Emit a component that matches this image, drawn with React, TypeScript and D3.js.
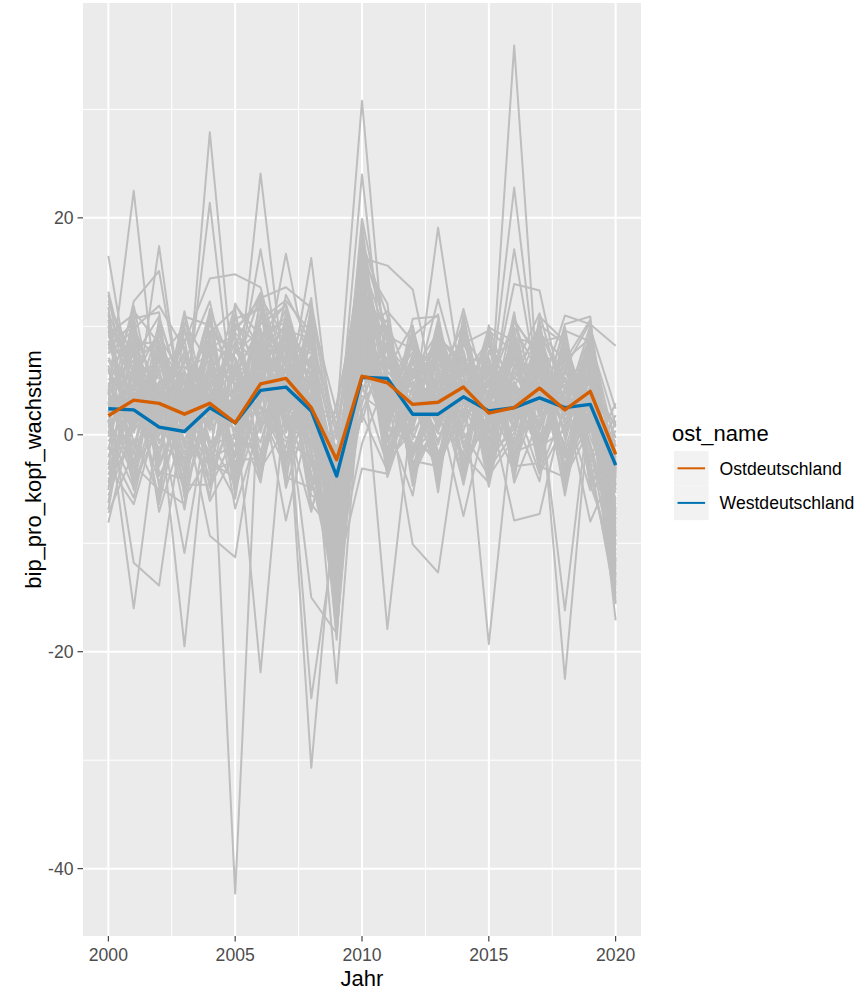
import React from "react";
import * as d3 from "d3";

const years = [2000, 2001, 2002, 2003, 2004, 2005, 2006, 2007, 2008, 2009, 2010, 2011, 2012, 2013, 2014, 2015, 2016, 2017, 2018, 2019, 2020];

const ostValues = [1.75, 3.2, 2.9, 1.9, 2.9, 1.1, 4.7, 5.2, 2.5, -2.3, 5.4, 4.8, 2.8, 3.0, 4.4, 2.0, 2.5, 4.3, 2.3, 4.0, -1.8];
const westValues = [2.4, 2.3, 0.7, 0.3, 2.5, 1.1, 4.1, 4.4, 2.2, -3.8, 5.3, 5.2, 1.9, 1.9, 3.5, 2.2, 2.5, 3.4, 2.5, 2.8, -2.8];

const groupNames = ["Ostdeutschland", "Westdeutschland"];
const yTicks = [-40, -20, 0, 20];
const yMinor = [-30, -10, 10, 30];
const xTicks = [2000, 2005, 2010, 2015, 2020];
const xMinor = [2002.5, 2007.5, 2012.5, 2017.5];

const bandSeries = [
  [5.2, 3.1, 6.8, -1.2, 4.5, 0.3, 7.9, 2.1, 5.6, -8.4, 12.1, 2.3, 4.8, -0.6, 6.2, 1.1, 4.9, 0.8, 5.3, 1.2, -6.8],
  [-2.1, 6.4, -0.8, 3.9, 0.7, 5.8, 1.4, 8.2, -1.9, -2.3, 4.1, 8.6, -1.4, 5.1, 1.6, 4.7, -0.9, 6.8, 0.1, 6.1, -1.9],
  [8.7, 0.4, 3.2, 5.6, -2.4, 3.9, 9.8, 0.6, 3.4, -11.2, 14.6, 1.2, 6.1, 1.8, 2.3, 6.3, 1.4, 2.9, 6.4, -0.8, -9.3],
  [0.9, -3.6, 7.4, 0.2, 7.8, -2.7, 3.6, 6.7, 7.9, -4.6, 8.4, 6.9, 0.3, 3.6, 7.8, -1.8, 5.8, 4.2, -2.1, 4.4, -3.2],
  [11.3, 4.8, -2.9, 2.8, 3.3, 7.1, -1.6, 4.9, 0.4, -6.7, 10.3, -0.7, 3.5, 7.3, -1.2, 3.2, 7.1, -0.6, 3.8, 7.2, -11.6],
  [3.6, 8.9, 1.7, -4.3, 5.9, 1.8, 5.9, 10.4, -3.8, -14.9, 16.2, 4.5, -2.7, 0.9, 4.9, 0.4, 2.6, 8.4, 1.9, 2.3, -4.7],
  [-4.8, 1.9, 4.6, 7.2, -0.5, -4.6, 11.2, 3.8, 2.7, -1.4, 6.9, 3.1, 8.2, -3.4, 3.8, 5.5, -2.8, 3.5, 4.6, -2.6, 1.8],
  [6.4, -1.8, 9.3, 1.9, 2.6, 8.6, 2.7, -1.2, 9.2, -9.1, 12.9, 9.8, 1.9, 4.4, 9.1, 2.1, 3.7, 6.1, -3.3, 5.6, -8.1],
  [1.8, 5.3, 0.4, 4.3, 9.6, 0.9, -2.4, 6.2, -5.1, -3.9, 3.2, 5.7, 5.6, 2.7, 0.4, 7.4, 8.3, 1.7, 7.6, 0.3, -0.6],
  [9.9, 7.1, 2.6, -2.6, 1.2, 4.4, 6.4, 11.6, 4.3, -12.8, 9.6, -2.1, 2.9, 8.1, 5.3, -3.1, 0.2, 9.1, 2.7, 8.4, -13.1],
  [-0.6, 2.7, 5.9, 6.3, 4.1, -1.1, 8.6, 0.2, 6.8, -6.1, 15.3, 7.6, -3.9, 1.2, 8.4, 3.7, 6.6, -1.4, 5.9, 3.6, -5.4],
  [4.3, -4.7, 1.1, 3.1, 8.3, 6.9, 0.8, 5.4, -0.8, -7.5, 7.4, 1.9, 7.3, 5.9, -2.4, 1.6, 3.1, 5.3, -1.2, 1.7, -2.4],
  [7.5, 9.7, -3.8, 0.8, -3.8, 2.4, 10.4, 8.8, 1.6, -16.3, 11.7, 10.4, 4.1, -4.1, 6.9, 6.9, -3.6, 7.6, 3.3, 9.1, -7.4],
  [2.4, 1.2, 8.1, 4.8, 6.8, -5.3, 4.7, 2.9, 10.1, -2.8, 5.3, 4.1, 0.8, 6.6, 2.9, -0.7, 4.5, 2.3, 8.1, -1.4, -10.2],
  [-3.2, 4.2, 2.2, -5.2, 2.1, 9.4, 6.8, -2.7, 5.1, -10.4, 13.8, -1.5, 9.1, 3.1, 5.8, 4.6, 7.8, 0.1, 1.3, 5.1, 0.7],
  [10.6, -0.9, 4.9, 2.3, -1.6, 3.3, -0.7, 7.5, 2.3, -5.3, 17.1, 5.4, 2.2, 9.2, -0.3, 2.8, 1.9, 4.8, 4.9, 2.9, -3.9],
  [0.1, 7.8, -1.9, 6.9, 5.2, 1.1, 12.3, 4.6, -2.4, -13.6, 8.8, 3.6, -0.8, -1.8, 4.2, 8.2, 5.1, 10.1, -0.4, 7.8, -12.4],
  [5.9, 2.3, 10.1, -0.9, 10.4, 5.1, 3.3, 9.6, 6.4, -8.8, 2.1, 8.2, 5.3, 4.8, 10.3, -2.3, 2.8, 3.3, 7.1, -0.2, -6.1],
  [-5.6, 0.8, 3.7, 3.5, 3.6, -3.4, 7.4, 0.9, 8.6, 0.8, 10.8, 0.6, 6.7, 7.7, 1.3, 5.1, -1.8, 7.1, 2.2, 4.8, -2.8],
  [12.4, 5.9, 0.9, 1.4, -2.9, 7.8, 4.1, 5.8, -1.3, -11.9, 14.2, 6.3, 3.6, 0.3, 7.3, 0.9, 9.1, -2.4, 4.4, 6.6, -8.9],
  [3.1, -2.4, 6.3, 8.1, 1.7, 0.6, 9.1, 12.1, 3.8, -4.1, 6.2, 2.8, -1.8, 5.4, 3.2, 4.1, 0.7, 5.9, -3.6, 2.6, -15.1],
  [7.1, 3.8, -0.4, -3.1, 6.5, 4.8, 1.9, 3.3, 7.3, -15.6, 12.4, 9.1, 7.9, 2.2, -1.7, 7.8, 4.2, 1.1, 6.9, 8.9, -1.1],
  [-1.4, 10.2, 2.9, 5.1, 8.9, -0.4, 5.2, -0.3, 0.9, -7.9, 9.1, -0.1, 1.1, 6.9, 5.6, -1.2, 6.4, 8.9, 1.1, 0.9, -9.8],
  [4.8, 0.2, 7.8, 2.1, 2.9, 10.2, 8.2, 7.1, -2.9, -3.1, 16.8, 4.9, 4.6, 3.9, 8.7, 2.9, -2.1, 4.1, 5.6, 5.3, -4.3],
  [8.1, 6.6, 4.1, -4.6, -4.6, 2.9, 3.9, 1.6, 4.8, -10.9, 7.9, 7.1, 0.1, -2.7, 2.1, 5.9, 3.4, -0.9, 3.9, 3.3, -7.8],
  [1.3, -2.8, -5.1, 6.1, 7.3, -2.1, 6.1, 9.4, 1.2, -6.9, 11.4, 1.7, 8.6, 4.2, 0.8, 1.3, 5.6, 6.9, -1.6, 7.1, -2.1],
  [-2.8, 8.3, 8.6, 0.6, 3.1, 6.1, -2.9, 4.2, 8.1, -1.9, 13.1, 5.9, 2.6, 7.1, 6.4, 3.3, 8.9, 2.6, 5.1, -2.1, 2.9],
  [6.9, 1.6, 0.1, 4.1, -0.8, 1.6, 10.9, 6.3, -4.3, -12.4, 4.6, -2.8, 5.8, 0.6, 9.4, -2.6, 1.1, 7.8, 2.9, 4.2, -11.1],
  [2.9, 4.6, 5.3, -1.8, 9.1, 8.1, 2.4, -2.1, 5.9, -9.8, 15.9, 8.9, -3.1, 4.9, 1.8, 6.6, 4.1, 0.6, 8.6, 1.6, -5.9],
  [10.1, -3.9, 3.4, 7.6, 2.4, -1.9, 8.9, 10.8, 2.9, -5.9, 10.1, 3.3, 4.1, 8.6, -0.8, 3.6, 6.9, 3.9, -0.9, 9.6, -3.5],
  [-0.2, 6.1, -2.6, 2.9, 6.1, 5.6, 1.1, 3.1, 9.6, -14.1, 12.8, 1.4, 6.9, -0.9, 6.1, 0.2, 2.1, 9.6, 4.3, 3.9, -9.1],
  [5.6, 9.3, 6.9, 4.6, -1.1, 0.1, 5.6, 7.9, -0.3, -8.1, 6.6, 6.6, 2.8, 3.3, 4.6, 5.2, -0.6, 1.9, 6.1, -1.1, -13.6],
  [-8.1, 2.1, 1.6, -2.2, 4.7, 7.6, 9.6, 1.2, 3.9, -2.6, 8.1, 10.6, -0.4, 5.7, 7.6, -0.4, 7.3, 5.1, 0.6, 5.9, -0.3],
  [9.2, 5.1, 9.6, 1.1, 7.7, -4.1, 4.4, 5.2, 6.9, -17.1, 13.4, 2.1, 4.9, 1.6, 3.6, 4.4, 3.9, -1.8, 7.4, 2.1, -6.4],
  [3.9, -1.1, 2.4, 5.9, 0.4, 3.6, 7.1, -1.8, 1.9, -7.2, 9.9, 4.4, 7.6, 6.2, -2.9, 7.1, 0.4, 6.4, 3.1, 6.9, -10.7],
  [0.6, 3.4, -1.3, 3.8, 5.6, 5.1, 2.9, 9.1, 4.6, -4.9, 14.9, -0.4, 3.1, -2.1, 5.1, 2.3, 5.3, 3.1, 1.6, 0.4, -3.7],
  [7.8, 7.4, 4.4, -0.4, 1.9, 1.3, 6.6, 4.1, -1.6, -11.4, 5.6, 7.8, 1.6, 4.1, 3.4, 0.1, 7.9, 4.6, 5.6, 6.3, -7.1],
  [-1.9, 0.9, 7.2, 2.6, 8.1, 9.1, 0.4, 6.9, 7.6, -3.6, 11.9, 3.9, 5.1, 8.9, 6.6, 5.9, -1.2, 8.1, -1.9, 3.1, -12.1],
  [4.6, 6.9, -0.1, 4.9, -2.2, -0.9, 8.1, 2.4, 0.6, -9.4, 7.1, 0.9, -1.1, 2.9, 7.1, 1.9, 4.6, -0.2, 4.1, 8.1, -2.6],
  [8.4, 2.9, 5.6, 1.6, 4.9, 6.4, 5.1, 8.4, 5.4, -13.2, 10.6, 5.1, 3.9, 0.1, 1.1, 4.9, 2.4, 7.3, 6.6, 1.9, -8.6],
];

const wideSeries = [
  [-6.3, 9.4, 3.9, 8.8, -3.2, 6.7, -3.8, 11.3, 0.8, -16.8, 18.2, -2.6, 7.4, -4.6, 9.6, -3.4, 8.8, -1.9, 8.9, -3.3, -14.2],
  [11.8, -5.1, 8.7, -3.9, 10.9, -5.6, 12.8, -2.3, 11.1, 2.1, 1.2, 9.6, -4.7, 9.9, -2.7, 8.9, -3.9, 10.6, -4.1, 9.8, 2.4],
  [-4.4, 4.9, -6.1, 9.7, 1.4, 11.1, 0.2, 8.6, -6.4, -9.3, 19.4, 1.1, -5.6, 8.3, -3.6, 9.3, 1.7, -4.3, 9.7, -4.7, -0.9],
  [9.3, 11.1, -4.8, -6.4, 11.6, -3.1, 9.4, -3.6, 4.1, -18.4, 9.4, 11.4, 8.6, -5.3, 11.1, -1.4, 10.4, 7.3, -5.6, 6.8, -15.6],
  [-7.2, -1.6, 10.6, 3.6, -5.7, 8.3, 13.1, 1.4, -7.1, 2.9, 14.4, -3.4, 9.9, 1.1, 7.3, -4.8, 6.1, 11.2, 2.6, -5.1, 1.3],
  [13.2, 3.6, -2.1, 10.3, 6.4, -6.8, 1.1, 12.9, 8.4, -12.1, -0.8, 5.3, 0.9, 10.6, -4.1, 10.1, -4.4, 1.6, 10.2, 10.9, -11.8],
  [1.1, 10.7, 11.3, -5.8, -1.9, 12.1, 7.7, -4.6, 12.2, -0.4, 17.8, 10.9, -2.4, -2.9, 10.8, 0.6, 11.3, -2.9, -3.9, 0.6, -7.7],
  [-2.9, -6.4, 1.9, 6.6, 12.3, 1.9, -4.4, 9.9, -1.4, -14.4, 6.4, 0.1, 10.7, 10.9, 0.2, -3.8, -0.3, 9.4, 6.8, 10.6, -13.9],
  [7.6, 7.9, -7.1, 0.9, -4.4, 10.7, 11.6, 6.4, -5.6, -6.4, 12.1, -3.9, 3.2, -3.7, 8.4, 9.6, 7.6, -3.1, 9.3, -4.4, -4.9],
  [12.9, 0.6, 6.1, -4.9, 8.6, -4.9, 2.1, -3.1, 9.9, -11.6, 16.1, 12.1, -4.4, 7.6, -3.3, 1.9, -3.4, 7.9, -2.9, 8.3, -10.1],
  [-5.1, 11.9, 0.6, 11.4, 1.1, 5.4, 10.2, 11.9, 1.9, -1.1, 3.6, 1.9, 9.4, 0.7, 9.9, -2.9, 9.6, 0.4, 7.9, -3.9, 0.4],
  [6.1, -4.3, 9.9, -2.9, 9.4, 11.6, -3.1, 0.6, 11.6, -15.1, 15.6, -3.1, 1.6, 9.6, 1.9, 9.9, 3.3, -3.6, 0.9, 7.9, -14.7],
  [10.4, 5.6, -6.4, 4.4, -6.1, -1.6, 12.6, 8.9, -3.6, -8.6, 8.6, 8.1, -4.1, 6.4, -4.6, 6.1, -2.6, 10.9, 8.6, -2.8, -2.9],
  [-1.1, -5.8, 4.1, -6.9, 5.9, 8.9, 5.9, -2.9, 7.1, -17.6, 13.1, 6.1, 10.1, -4.4, 10.6, -4.1, 9.9, 5.6, -4.8, 9.1, -9.4],
  [8.9, 9.8, 11.9, 7.9, -4.9, 0.1, -1.9, 10.6, -0.1, -4.4, 18.9, -1.9, 5.9, 9.4, 5.6, 8.6, -4.1, 8.6, 9.1, -4.1, -6.6],
  [-3.7, 3.1, -4.4, 1.9, 11.1, -4.4, 8.9, 3.6, 10.6, -13.4, 2.9, 9.9, -3.4, 1.4, -1.9, -4.4, 8.1, -1.1, 0.4, 9.4, -12.9],
  [11.1, -2.9, 7.1, 9.9, 0.9, 9.9, 11.9, -4.9, 3.1, -7.1, 11.6, 3.9, 8.9, -3.1, 9.1, 5.6, 0.9, 9.9, -4.4, 5.9, -1.6],
  [2.1, 8.6, -3.4, -4.1, 7.1, 4.6, -4.1, 7.6, -6.9, 0.4, 16.4, -2.4, 0.4, 10.1, 2.9, -2.6, 10.9, 2.1, 9.9, -2.4, -15.4],
  [-6.9, 6.4, 9.1, 5.1, -2.6, -3.9, 10.6, 12.4, 9.4, -10.1, 7.6, 10.1, -2.1, 3.9, -4.4, 9.1, -2.9, -2.6, 6.1, 10.4, -5.1],
  [9.6, -3.1, 0.9, 10.9, 10.1, 7.1, 1.4, -0.6, -2.1, -16.1, 14.1, 0.6, 9.6, -2.4, 9.4, 0.9, 8.9, 8.4, -3.1, 1.1, -8.3],
  [4.4, 11.4, 8.4, -5.6, 3.9, 11.9, 9.1, 10.4, 6.1, -5.1, 19.9, 8.6, -3.6, 8.9, 6.9, -3.9, 4.4, 9.4, 5.1, -3.6, -13.3],
  [-4.1, -0.4, -5.4, 7.9, -3.4, -2.4, -2.1, 3.4, 12.6, -12.9, -3.1, -3.6, 6.9, -1.6, 1.4, 9.4, -1.6, -0.6, 9.6, 8.6, 0.9],
  [12.1, 7.1, 10.9, 2.9, 11.4, 5.9, 12.9, -3.9, -4.9, 0.9, 12.9, 2.6, 9.1, 11.1, -3.9, 4.1, 10.6, 6.9, -5.1, 4.6, -6.9],
  [0.4, -4.9, 2.9, -3.4, 1.6, 10.9, 4.9, 9.6, 8.9, -18.9, 17.4, 9.4, -1.6, 0.9, 10.1, -2.1, 0.6, 10.1, 8.4, -4.6, -11.4],
  [7.9, 10.4, -2.4, 11.1, -1.4, -5.9, 8.4, 1.9, -3.9, -8.1, 1.9, -3.3, 4.6, 8.1, -2.6, 9.9, 8.6, -3.4, 2.4, 10.1, -4.6],
];

const outlierSeries = [
  [3.4, 1.9, 4.1, 2.2, 6.1, -42.3, 8.3, 4.4, 1.1, -6.2, 8.9, 3.6, 2.1, 2.8, 4.4, 1.6, 3.3, 4.9, 1.8, 3.6, -4.1],
  [2.2, 4.4, 0.9, 1.7, 3.4, 2.6, 5.3, 3.9, 2.6, -4.4, 6.9, 4.1, 1.3, 4.4, 3.1, 0.8, 35.9, 2.2, 4.6, 1.4, -3.6],
  [4.1, 2.6, 3.6, 0.9, 2.9, 3.1, 4.9, 6.1, 1.9, 1.6, 30.8, 4.6, 2.4, 3.6, 5.1, 2.4, 1.6, 5.6, 2.1, 3.4, -1.6],
  [1.6, 3.9, 2.1, 0.4, 27.9, 3.4, 4.6, 2.9, 3.6, -3.1, 6.1, 5.3, 3.1, 1.9, 4.1, 3.1, 2.4, 3.9, 2.4, 4.1, -2.9],
  [2.6, 1.4, 3.3, 2.6, 4.4, 1.9, 24.1, 4.1, 2.1, -5.6, 7.6, 3.4, 1.9, 2.4, 4.6, 1.9, 3.1, 3.4, 2.9, 2.4, -3.3],
  [3.3, 2.4, 1.6, 3.4, 2.1, 4.1, 3.6, 4.9, 0.6, -2.1, 24.0, 3.1, 2.6, 1.4, 3.9, 2.6, 22.8, 3.1, 1.4, 3.1, -4.6],
  [3.8, 22.5, 1.3, 2.9, 3.6, 2.1, 4.4, 3.4, 2.9, -3.4, 8.1, 4.9, 2.9, 3.1, 3.4, 2.1, 2.9, 4.1, 3.1, 2.9, -2.4],
  [2.1, 3.3, 4.6, 1.9, 21.4, 1.4, 5.6, 3.1, 2.4, -4.9, 7.3, 3.9, 2.2, 3.3, 4.9, 1.3, 17.1, 3.4, 2.6, 3.9, -3.9],
  [1.1, 2.9, 2.6, 1.4, 3.9, 2.4, 4.1, 4.6, 1.6, -2.6, 6.4, 4.4, 1.6, 19.1, 3.6, 2.9, 3.4, 2.9, 3.4, 2.6, -2.1],
  [2.9, 1.1, 17.4, 0.6, 3.1, 3.9, 17.1, 3.6, 3.1, -3.9, 7.1, 4.2, 2.9, 2.4, 3.6, 2.4, 2.2, 4.4, 2.2, 3.9, -3.1],
  [3.6, 3.1, 2.4, 1.2, 3.1, 1.8, 4.2, 16.7, 4.9, -2.9, 5.9, 3.3, 2.3, 2.6, 4.3, 2.2, 2.6, 3.7, 2.8, 3.2, -2.6],
  [2.3, 2.8, 3.1, 2.0, 3.5, 2.2, 3.8, 2.4, 16.3, -3.5, 7.8, 3.9, 2.6, 2.9, 3.3, 2.8, 2.9, 3.8, 2.5, 3.1, -3.2],
  [16.5, 2.6, 3.9, 3.3, 1.6, 2.9, 4.4, 3.9, 3.4, -3.6, 6.6, 4.6, 3.3, 2.2, 3.1, 2.6, 1.9, 3.6, 2.4, 2.6, -2.9],
  [2.4, 3.6, 1.8, 2.4, 2.6, 3.3, 3.9, 5.1, -30.7, -4.6, 6.4, 3.8, 2.1, 3.3, 3.9, 1.4, 2.8, 4.3, 3.3, 2.4, -3.4],
  [3.2, 2.5, 2.8, 1.8, 3.0, 2.4, 4.0, 4.7, -24.3, -8.0, 7.0, 3.6, 2.2, 2.7, 4.0, 2.0, 2.6, 3.6, 2.8, 2.8, -3.0],
  [2.8, 3.0, 2.4, 2.6, 3.1, 2.1, 4.5, 3.6, 2.8, -22.9, 6.8, 3.7, 2.5, 2.9, 3.8, 2.3, 2.7, 4.0, 2.3, 3.2, -3.6],
  [1.9, 2.2, 3.1, 1.6, 3.3, 2.6, -21.9, 4.3, 2.6, -4.1, 7.9, 3.1, 2.6, 2.1, 4.1, 2.1, 2.6, 3.3, 2.3, 3.3, -3.1],
  [2.6, 3.4, 2.3, 1.9, 3.6, 2.2, 4.6, 4.4, 2.3, -3.3, 6.9, 4.3, 2.4, 3.1, 3.9, 2.6, 3.4, 4.6, -22.5, 3.4, -2.8],
  [3.1, 2.3, 2.4, -19.5, 3.8, 1.6, 4.3, 3.3, 2.2, -4.3, 7.6, 4.0, 2.7, 2.6, 3.4, 2.3, 2.3, 3.9, 2.6, 3.0, -3.7],
  [2.3, 2.8, 3.4, 2.2, 2.4, 2.7, 4.8, 4.2, 2.7, -3.7, 7.2, 3.5, 2.0, 2.9, 4.8, -19.3, 3.0, 3.8, 2.7, 3.5, -3.0],
  [3.5, 2.0, 2.7, 2.7, 3.2, 1.3, 4.0, 3.6, 2.5, -3.2, 8.4, -17.9, 2.8, 3.4, 4.2, 2.7, 2.5, 4.0, 2.0, 2.7, -2.2],
  [1.4, -16.0, 2.0, -10.9, 3.0, 2.8, 4.5, 3.0, 2.0, -4.0, 7.0, 3.7, 2.3, 2.3, 3.7, 2.0, 2.7, 3.5, 2.9, 2.2, -3.5],
  [2.7, 2.5, 2.9, 2.0, 2.7, 3.0, 4.2, 3.7, 2.8, -3.0, 6.7, 4.7, 3.0, 2.7, 4.5, 2.5, 2.0, 3.2, -16.2, 3.8, -17.1],
  [3.0, -11.8, -13.9, 2.4, 3.4, 2.0, 3.8, 3.9, 2.4, -4.7, 7.4, 3.4, 2.5, 2.0, 4.0, 2.8, 2.4, 4.2, 2.5, 3.3, -4.0],
  [2.0, 2.9, 2.2, 2.8, 2.5, 2.5, 4.7, 4.0, 2.1, -3.5, 6.3, 3.9, -10.1, -12.7, 3.3, 2.2, 2.9, 3.6, 2.4, 2.8, -3.3],
  [2.5, 3.0, 2.6, 2.1, -9.3, -11.3, 3.5, 3.5, 2.9, -3.8, 7.7, 4.1, 2.2, 2.5, 4.4, 2.4, 2.3, 3.4, 3.0, 3.1, -2.7],
  [2.8, 3.2, 2.5, 2.3, 2.8, 2.3, 4.1, 3.8, 2.3, 2.0, 16.3, 15.6, 13.4, 2.3, 3.8, 2.9, 2.6, 3.8, 2.7, 2.3, -3.2],
  [3.3, 2.1, 3.0, 2.5, 3.0, 9.6, 12.6, 13.6, 11.7, -2.2, 6.6, 4.4, 2.6, 2.5, 3.5, 2.2, 2.2, 3.3, 2.5, 2.9, -2.5],
  [2.2, 3.5, 2.8, 2.2, 2.6, 2.9, 3.7, 4.3, 2.5, -3.6, 7.2, 3.2, 3.2, 12.5, 3.9, 2.6, 13.9, 13.3, 2.5, 2.5, -2.9],
  [2.4, 2.6, 3.2, 2.6, 3.0, 2.0, 4.6, 3.9, 2.2, -3.1, 7.0, 3.6, 2.9, 3.0, 11.6, 2.8, 2.8, 3.7, 11.0, 10.2, 8.2],
  [2.7, 2.2, 3.5, 8.5, 14.4, 14.8, 13.6, 4.1, 2.6, -3.4, 7.5, 3.7, 2.2, 2.8, 4.3, 2.3, 3.2, 3.5, 2.8, 3.2, -2.3],
  [2.0, 12.3, 15.1, 1.3, 3.6, 2.5, 4.3, 3.7, 2.7, -3.6, 6.8, 4.2, 2.8, 3.0, 3.7, 2.5, 2.5, 4.1, 2.3, 3.0, -3.8],
  [2.6, 2.7, 2.2, 2.4, 3.3, 2.6, 4.0, 4.1, -15.0, -18.3, 7.6, 3.5, 2.4, 2.2, 4.6, 2.6, 2.7, 3.6, 2.6, 3.6, -3.4],
  [2.1, 2.4, 2.7, 1.8, 2.9, 2.4, 3.9, 4.0, 2.4, -3.3, 6.5, 3.4, 2.7, 2.6, -7.5, 2.7, -7.9, -7.3, 2.9, -8.0, -2.6],
  [2.9, 3.0, 2.1, 2.6, 3.2, 2.7, 4.5, -7.9, 2.1, -3.9, 7.3, 3.0, 2.0, 2.8, 3.8, 2.1, 2.6, 3.1, 2.3, 2.7, -3.1],
];

const PANEL = { left: 83, right: 641, top: 3, bottom: 936 };
const GRAY = "#BEBEBE";
const OST = "#D55E00";
const WEST = "#0072B2";
const FONT = "'Liberation Sans', Arial, Helvetica, sans-serif";

export default function App() {
  const grays = [...bandSeries, ...wideSeries, ...outlierSeries];
  const allVals = [...grays, ostValues, westValues].flat();
  const vMin = d3.min(allVals) as number;
  const vMax = d3.max(allVals) as number;
  const vPad = (vMax - vMin) * 0.05;
  const xMin = d3.min(years) as number;
  const xMax = d3.max(years) as number;
  const xPad = (xMax - xMin) * 0.05;

  const x = d3.scaleLinear().domain([xMin - xPad, xMax + xPad]).range([PANEL.left, PANEL.right]);
  const y = d3.scaleLinear().domain([vMin - vPad, vMax + vPad]).range([PANEL.bottom, PANEL.top]);

  const line = d3
    .line<number>()
    .x((_, i) => x(years[i]))
    .y((d) => y(d));

  return (
    <div style={{ position: "absolute", left: 0, top: 0 }}>
      <svg width={857} height={991} style={{ display: "block", background: "#fff" }} fontFamily={FONT}>
        <defs>
          <clipPath id="panelClip">
            <rect x={PANEL.left} y={PANEL.top} width={PANEL.right - PANEL.left} height={PANEL.bottom - PANEL.top} />
          </clipPath>
        </defs>
        <rect x={PANEL.left} y={PANEL.top} width={PANEL.right - PANEL.left} height={PANEL.bottom - PANEL.top} fill="#EBEBEB" />
        {yMinor.map((v) => (
          <line key={"ym" + v} x1={PANEL.left} x2={PANEL.right} y1={y(v)} y2={y(v)} stroke="#fff" strokeWidth={1} />
        ))}
        {xMinor.map((v) => (
          <line key={"xm" + v} y1={PANEL.top} y2={PANEL.bottom} x1={x(v)} x2={x(v)} stroke="#fff" strokeWidth={1} />
        ))}
        {yTicks.map((v) => (
          <line key={"yM" + v} x1={PANEL.left} x2={PANEL.right} y1={y(v)} y2={y(v)} stroke="#fff" strokeWidth={2} />
        ))}
        {xTicks.map((v) => (
          <line key={"xM" + v} y1={PANEL.top} y2={PANEL.bottom} x1={x(v)} x2={x(v)} stroke="#fff" strokeWidth={2} />
        ))}
        <g clipPath="url(#panelClip)">
          {grays.map((s, i) => (
            <path key={"g" + i} d={line(s) || ""} fill="none" stroke={GRAY} strokeWidth={2} strokeLinejoin="round" />
          ))}
          <path d={line(westValues) || ""} fill="none" stroke={WEST} strokeWidth={3.4} strokeLinejoin="round" />
          <path d={line(ostValues) || ""} fill="none" stroke={OST} strokeWidth={3.4} strokeLinejoin="round" />
        </g>
        {yTicks.map((v) => (
          <g key={"yt" + v}>
            <line x1={PANEL.left - 5.5} x2={PANEL.left} y1={y(v)} y2={y(v)} stroke="#333333" strokeWidth={1.1} />
            <text x={PANEL.left - 9.5} y={y(v)} dy="0.36em" textAnchor="end" fontSize={17.6} fill="#4D4D4D">
              {v}
            </text>
          </g>
        ))}
        {xTicks.map((v) => (
          <g key={"xt" + v}>
            <line y1={PANEL.bottom} y2={PANEL.bottom + 5.5} x1={x(v)} x2={x(v)} stroke="#333333" strokeWidth={1.1} />
            <text x={x(v)} y={PANEL.bottom + 25} textAnchor="middle" fontSize={17.6} fill="#4D4D4D">
              {v}
            </text>
          </g>
        ))}
        <text x={(PANEL.left + PANEL.right) / 2} y={986} textAnchor="middle" fontSize={22} fill="#000">
          Jahr
        </text>
        <text
          transform={`translate(41, ${(PANEL.top + PANEL.bottom) / 2}) rotate(-90)`}
          textAnchor="middle"
          fontSize={22}
          fill="#000"
        >
          bip_pro_kopf_wachstum
        </text>
        <g>
          <text x={672} y={441} fontSize={22} fill="#000">
            ost_name
          </text>
          {groupNames.map((name, i) => (
            <g key={name} transform={`translate(674, ${451 + i * 34.6})`}>
              <rect width={34.6} height={34.6} fill="#F2F2F2" />
              <line x1={3.5} x2={31.1} y1={17.3} y2={17.3} stroke={i === 0 ? OST : WEST} strokeWidth={2} />
              <text x={45.6} y={17.3} dy="0.36em" fontSize={17.6} fill="#000">
                {name}
              </text>
            </g>
          ))}
        </g>
      </svg>
    </div>
  );
}
